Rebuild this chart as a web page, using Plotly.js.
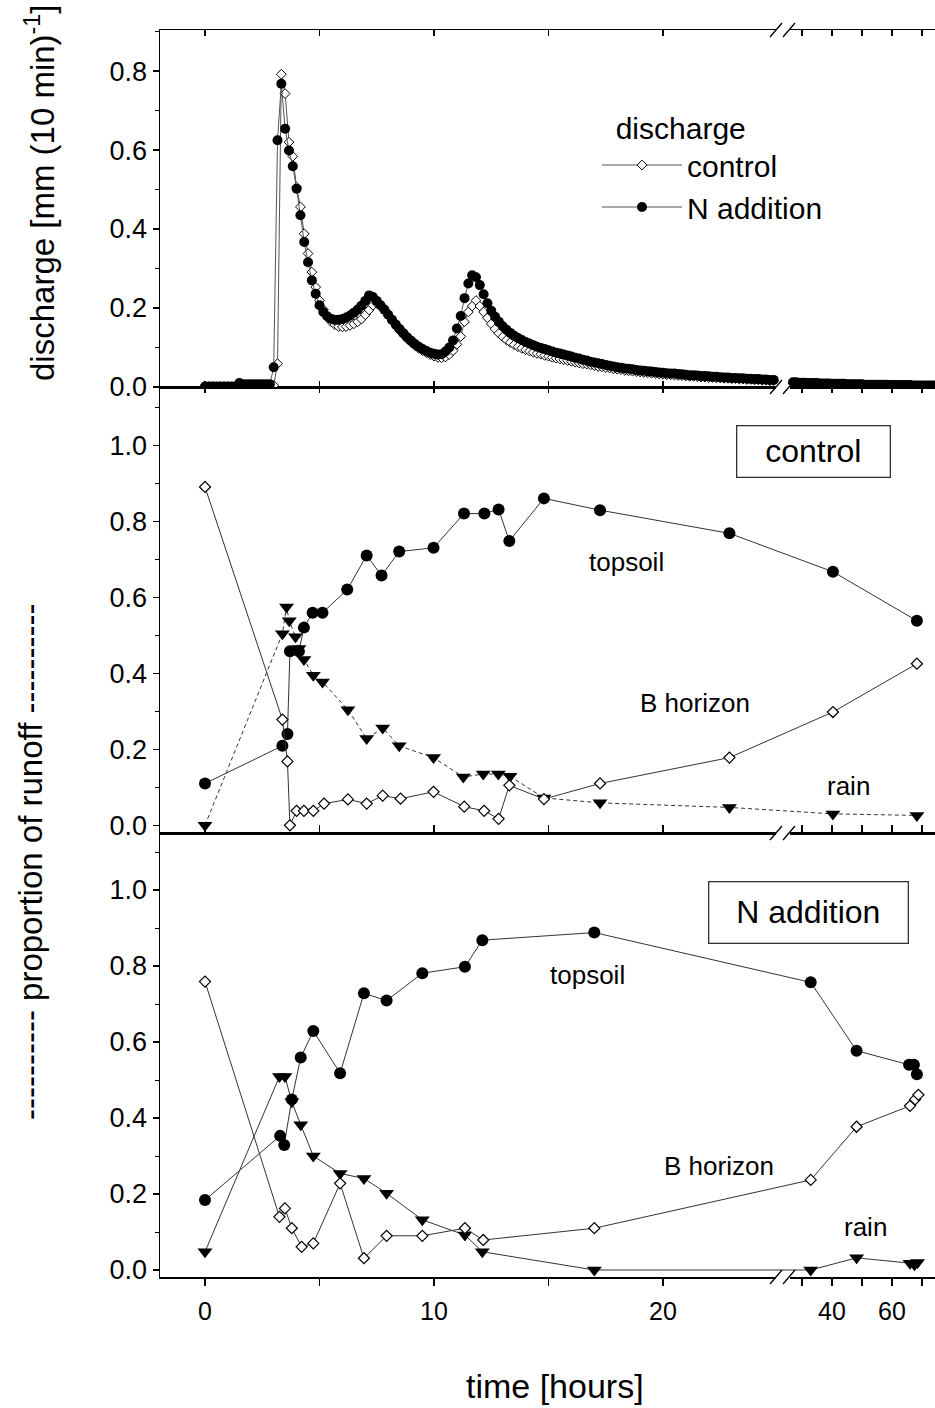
<!DOCTYPE html>
<html><head><meta charset="utf-8">
<script src="https://cdn.plot.ly/plotly-3.0.1.min.js"></script>
<style>html,body{margin:0;padding:0;overflow:hidden;background:#fff}#chart{width:938px;height:1408px}</style>
</head><body><div id="chart"></div>
<script>
// ---------- DATA ----------
// Discharge, 10-minute readings starting at 0 h (before the axis break)
const readingIntervalMin = 10;
const dischargeCtrl1 = [
0.001,0.001,0.001,0.001,0.001,0.001,
0.001,0.001,0.001,0.001,0.001,0.001,
0.001,0.001,0.002,0.002,0.002,0.002,
0.004,0.059,0.792,0.743,0.620,0.584,
0.506,0.456,0.388,0.338,0.291,0.253,
0.219,0.196,0.178,0.166,0.158,0.153,
0.152,0.153,0.156,0.160,0.165,0.172,
0.183,0.195,0.207,0.212,0.205,0.195,
0.182,0.168,0.155,0.143,0.132,0.122,
0.113,0.105,0.098,0.092,0.087,0.082,
0.078,0.075,0.074,0.076,0.082,0.092,
0.108,0.128,0.165,0.190,0.205,0.219,
0.205,0.190,0.175,0.160,0.147,0.136,
0.127,0.119,0.113,0.107,0.102,0.098,
0.094,0.091,0.088,0.085,0.083,0.080,
0.078,0.075,0.073,0.071,0.069,0.067,
0.065,0.063,0.061,0.059,0.058,0.056,
0.054,0.052,0.051,0.049,0.048,0.046,
0.045,0.044,0.042,0.041,0.040,0.039,
0.038,0.037,0.036,0.035,0.034,0.033,
0.032,0.031,0.031,0.030,0.029,0.029,
0.028,0.027,0.027,0.026,0.025,0.025,
0.024,0.024,0.023,0.023,0.022,0.022,
0.021,0.021,0.020,0.020,0.019,0.019,
0.018,0.018,0.017,0.017,0.016,0.016];
const dischargeN1 = [
0.001,0.001,0.001,0.001,0.001,0.001,
0.001,0.001,0.001,0.010,0.007,0.007,
0.007,0.007,0.007,0.007,0.007,0.007,
0.050,0.625,0.768,0.654,0.599,0.559,
0.502,0.435,0.367,0.316,0.270,0.236,
0.207,0.190,0.179,0.173,0.170,0.170,
0.172,0.176,0.181,0.188,0.196,0.206,
0.218,0.232,0.228,0.218,0.207,0.196,
0.183,0.170,0.158,0.147,0.136,0.126,
0.117,0.109,0.102,0.096,0.091,0.087,
0.084,0.082,0.083,0.090,0.100,0.118,
0.148,0.180,0.225,0.262,0.283,0.278,
0.258,0.235,0.212,0.193,0.178,0.165,
0.154,0.145,0.137,0.130,0.124,0.119,
0.114,0.110,0.106,0.102,0.099,0.096,
0.093,0.090,0.087,0.085,0.082,0.080,
0.077,0.074,0.072,0.069,0.067,0.064,
0.062,0.060,0.058,0.056,0.054,0.052,
0.050,0.049,0.047,0.046,0.045,0.043,
0.042,0.041,0.040,0.039,0.038,0.037,
0.036,0.035,0.034,0.034,0.033,0.032,
0.031,0.030,0.030,0.029,0.028,0.028,
0.027,0.026,0.026,0.025,0.024,0.024,
0.023,0.023,0.022,0.022,0.021,0.021,
0.020,0.020,0.019,0.019,0.018,0.018];
// Discharge after the axis break (hourly readings)
const dischargeT2 = [27,28,29,30,31,32,33,34,35,36,37,38,39,40,41,42,43,44,45,46,47,48,49,50,
                     51,52,53,54,55,56,57,58,59,60,61,62,63,64,65,66,67,68,69,70,71,72,73,74];
const dischargeCtrl2 = [0.010,0.010,0.009,0.009,0.008,0.008,0.008,0.008,0.008,0.007,0.007,0.007,0.007,0.007,0.007,0.007,
                        0.006,0.006,0.006,0.006,0.006,0.006,0.006,0.006,0.005,0.005,0.005,0.005,0.005,0.005,0.005,0.005,
                        0.004,0.004,0.004,0.004,0.004,0.004,0.004,0.004,0.003,0.003,0.003,0.003,0.003,0.003,0.003,0.003];
const dischargeN2 = [0.012,0.012,0.011,0.011,0.011,0.010,0.010,0.010,0.010,0.009,0.009,0.009,0.009,0.008,0.008,0.008,
                     0.008,0.008,0.007,0.007,0.007,0.007,0.007,0.007,0.006,0.006,0.006,0.006,0.006,0.006,0.006,0.006,
                     0.005,0.005,0.005,0.005,0.005,0.005,0.005,0.005,0.004,0.004,0.004,0.004,0.004,0.004,0.004,0.004];

// Proportion of runoff - control
const ctrlTopsoilT = [0,3.38,3.6,3.71,4.1,4.32,4.7,5.13,6.21,7.06,7.71,8.48,9.98,11.31,12.2,12.82,13.29,14.8,17.25,22.9,40.3,68.3];
const ctrlTopsoil  = [0.11,0.209,0.24,0.458,0.458,0.52,0.559,0.559,0.62,0.71,0.657,0.72,0.73,0.82,0.82,0.831,0.748,0.86,0.829,0.768,0.667,0.538];
const ctrlBT = [0,3.38,3.6,3.71,4.0,4.32,4.73,5.2,6.24,7.06,7.76,8.54,9.98,11.32,12.19,12.82,13.29,14.8,17.25,22.9,40.3,68.3];
const ctrlB  = [0.89,0.278,0.168,0.0,0.038,0.038,0.038,0.057,0.068,0.057,0.078,0.07,0.088,0.049,0.038,0.017,0.105,0.069,0.11,0.178,0.298,0.425];
const ctrlRainT = [0,3.38,3.56,3.68,3.95,4.1,4.32,4.73,5.13,6.24,7.06,7.76,8.48,9.98,11.28,12.15,12.81,13.32,14.8,17.25,22.9,40.3,68.3];
const ctrlRain  = [0.0,0.504,0.574,0.538,0.496,0.465,0.436,0.395,0.377,0.304,0.228,0.256,0.209,0.178,0.127,0.135,0.135,0.129,0.072,0.059,0.047,0.03,0.026];

// Proportion of runoff - N addition
const nTopsoilT = [0,3.28,3.46,3.79,4.18,4.73,5.9,6.94,7.93,9.49,11.35,12.11,17.0,32.9,48.2,65.7,67.3,68.3];
const nTopsoil  = [0.184,0.353,0.329,0.449,0.559,0.629,0.518,0.728,0.709,0.781,0.798,0.868,0.888,0.757,0.577,0.54,0.54,0.515];
const nBT = [0,3.25,3.49,3.79,4.22,4.73,5.9,6.94,7.93,9.49,11.35,12.15,17.0,32.9,48.2,66.0,67.7,68.8];
const nB  = [0.759,0.14,0.162,0.11,0.061,0.07,0.228,0.031,0.09,0.09,0.11,0.079,0.11,0.237,0.377,0.432,0.449,0.461];
const nRainT = [0,3.25,3.49,3.79,4.18,4.73,5.9,6.94,7.93,9.49,11.35,12.11,17.0,32.9,48.2,66.0,67.5,68.5];
const nRain  = [0.048,0.509,0.509,0.443,0.382,0.3,0.254,0.241,0.202,0.132,0.092,0.048,0.0,0.0,0.032,0.018,0.014,0.02];

// Axis ticks (hours)
const tickHours = [0,5,10,15,20,30,40,50,60,70];
const tickLabels = ['0',' ','10',' ','20',' ','40',' ','60',' '];

// ---------- BROKEN TIME AXIS ----------
const BREAK_AT = 25;           // hours: linear 0-25 h, compressed afterwards
const AFTER_BREAK_GAP = 0.415;
const AFTER_BREAK_SCALE = 0.131;
function axisPos(t){ if (t === null) return null; return t <= BREAK_AT ? t : BREAK_AT + AFTER_BREAK_GAP + (t - BREAK_AT) * AFTER_BREAK_SCALE; }

const dischargeT1 = dischargeN1.map((_, k) => k * readingIntervalMin / 60);
const dX = [...dischargeT1, null, ...dischargeT2].map(axisPos);

// ---------- LAYOUT HELPERS ----------
const W = 938, H = 1408, ML = 160, MR = 0, MT = 30, MB = 131;
const PW = W - ML - MR, PH = H - MT - MB;
const px = x => (x - ML) / PW;
const py = y => (H - MB - y) / PH;
const FONT = 'Liberation Sans, Arial, Helvetica, sans-serif';

const topDom = [py(387), 1], midDom = [py(833), py(387)], botDom = [0, py(833)];
const uMin = -45 / 22.9, uMax = uMin + PW / 22.9;

const lineC = '#333';
const traces = [
  { x: dX, y: [...dischargeCtrl1, null, ...dischargeCtrl2], xaxis: 'x3', yaxis: 'y3', name: 'control',
    mode: 'lines+markers', legendrank: 1,
    line: { color: '#555', width: 1 },
    marker: { symbol: 'diamond', size: 7.5, color: 'white', line: { color: 'black', width: 1 } } },
  { x: dX, y: [...dischargeN1, null, ...dischargeN2], xaxis: 'x3', yaxis: 'y3', name: 'N addition',
    mode: 'lines+markers', legendrank: 2,
    line: { color: '#555', width: 1 },
    marker: { symbol: 'circle', size: 10, color: 'black' } },

  { x: ctrlRainT.map(axisPos), y: ctrlRain, xaxis: 'x2', yaxis: 'y2', mode: 'lines+markers', showlegend: false,
    line: { color: lineC, width: 1, dash: '4px,3px' }, marker: { symbol: 'triangle-down', size: 13, color: 'black' } },
  { x: ctrlTopsoilT.map(axisPos), y: ctrlTopsoil, xaxis: 'x2', yaxis: 'y2', mode: 'lines+markers', showlegend: false,
    line: { color: lineC, width: 1 }, marker: { symbol: 'circle', size: 12, color: 'black' } },
  { x: ctrlBT.map(axisPos), y: ctrlB, xaxis: 'x2', yaxis: 'y2', mode: 'lines+markers', showlegend: false,
    line: { color: lineC, width: 1 }, marker: { symbol: 'diamond', size: 8.5, color: 'white', line: { color: 'black', width: 1.2 } } },

  { x: nRainT.map(axisPos), y: nRain, xaxis: 'x', yaxis: 'y', mode: 'lines+markers', showlegend: false,
    line: { color: lineC, width: 1 }, marker: { symbol: 'triangle-down', size: 13, color: 'black' } },
  { x: nTopsoilT.map(axisPos), y: nTopsoil, xaxis: 'x', yaxis: 'y', mode: 'lines+markers', showlegend: false,
    line: { color: lineC, width: 1 }, marker: { symbol: 'circle', size: 12, color: 'black' } },
  { x: nBT.map(axisPos), y: nB, xaxis: 'x', yaxis: 'y', mode: 'lines+markers', showlegend: false,
    line: { color: lineC, width: 1 }, marker: { symbol: 'diamond', size: 8.5, color: 'white', line: { color: 'black', width: 1.2 } } }
];

const xTickFont = { family: FONT, size: 25, color: 'black' };
const yTickFont = { family: FONT, size: 27, color: 'black' };
const xBase = {
  range: [uMin, uMax], tickmode: 'array', tickvals: tickHours.map(axisPos), ticktext: tickLabels,
  showline: true, linecolor: 'black', linewidth: 1.5, showgrid: false, zeroline: false,
  tickcolor: 'black', tickwidth: 1.2, ticklen: 6, tickfont: xTickFont
};
const yBase = {
  showline: true, linecolor: 'black', linewidth: 1.5, mirror: true, showgrid: false, zeroline: false,
  ticks: 'outside', ticklen: 6, tickwidth: 1.2, tickcolor: 'black', dtick: 0.2, tick0: 0, tickformat: '.1f',
  tickfont: yTickFont, minor: { dtick: 0.1, ticks: 'outside', ticklen: 4, tickcolor: 'black', tickwidth: 1 }
};

// Axis-break marks on every horizontal axis line
const shapes = [];
[30, 387, 833, 1277].forEach(y => {
  shapes.push({ type: 'rect', xref: 'paper', yref: 'paper', x0: px(776), x1: px(790), y0: py(y + 2), y1: py(y - 2),
                fillcolor: 'white', line: { width: 0 }, layer: 'above' });
  [770, 783].forEach(x0 => shapes.push({ type: 'line', xref: 'paper', yref: 'paper',
    x0: px(x0), y0: py(y + 7), x1: px(x0 + 12), y1: py(y - 7), line: { color: 'black', width: 1.3 }, layer: 'above' }));
});

const ann = (text, x, y, size, extra) => Object.assign({ text, xref: 'paper', yref: 'paper', x: px(x), y: py(y),
  xanchor: 'center', yanchor: 'middle', showarrow: false, font: { family: FONT, size, color: 'black' } }, extra || {});

const annotations = [
  ann('control', 813, 451, 32, { width: 150, height: 48, bordercolor: '#333', borderwidth: 1.3, borderpad: 1 }),
  ann('topsoil', 626, 562, 26), ann('B horizon', 695, 703, 26), ann('rain', 848, 786, 26),
  ann('N addition', 808, 913, 32, { width: 196, height: 58, bordercolor: '#333', borderwidth: 1.3, borderpad: 1 }),
  ann('topsoil', 587, 975, 26), ann('B horizon', 719, 1166, 26), ann('rain', 865, 1227, 26),
  ann('discharge [mm (10 min)<sup>-1</sup>]', 40, 193, 33, { textangle: -90 }),
  ann('---------- proportion of runoff ----------', 30, 862, 33, { textangle: -90 }),
  ann('time [hours]', 555, 1386, 34)
];

const layout = {
  width: W, height: H, margin: { l: ML, r: MR, t: MT, b: MB },
  paper_bgcolor: 'white', plot_bgcolor: 'white', font: { family: FONT, color: 'black' },
  xaxis:  Object.assign({}, xBase, { anchor: 'y',  ticks: 'outside', ticklen: 7, mirror: 'ticks', ticklabelstandoff: 4 }),
  xaxis2: Object.assign({}, xBase, { anchor: 'y2', matches: 'x', ticks: 'inside', mirror: 'ticks', showticklabels: false }),
  xaxis3: Object.assign({}, xBase, { anchor: 'y3', matches: 'x', ticks: 'inside', mirror: 'ticks', showticklabels: false }),
  yaxis:  Object.assign({}, yBase, { domain: botDom, range: [-0.0184, 1.150] }),
  yaxis2: Object.assign({}, yBase, { domain: midDom, range: [-0.0203, 1.153] }),
  yaxis3: Object.assign({}, yBase, { domain: topDom, range: [0, 0.904] }),
  showlegend: true,
  legend: { x: px(597), y: py(100), xanchor: 'left', yanchor: 'top', bgcolor: 'rgba(0,0,0,0)',
            font: { family: FONT, size: 30, color: 'black' }, itemwidth: 80,
            title: { text: '&nbsp;&nbsp;discharge', font: { family: FONT, size: 30, color: 'black' } }, tracegroupgap: 0 },
  shapes, annotations
};

Plotly.newPlot('chart', traces, layout, { staticPlot: true });
</script></body></html>
